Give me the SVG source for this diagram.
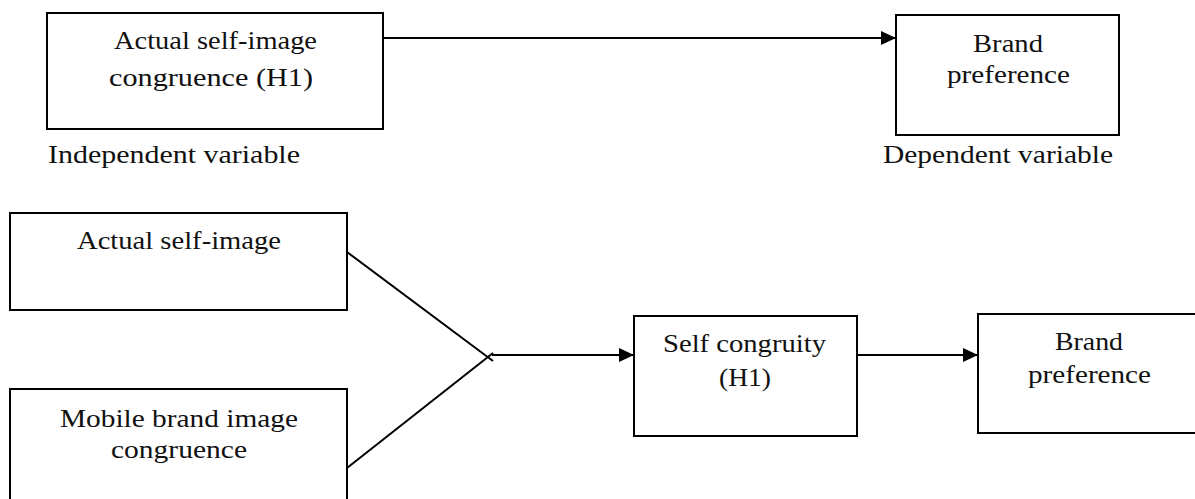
<svg xmlns="http://www.w3.org/2000/svg" width="1195" height="499" viewBox="0 0 1195 499">
<style>
.box{fill:#fff;stroke:#000;stroke-width:2}
text{font-family:'Liberation Serif','Times New Roman',Times,serif;font-size:26px;fill:#111}
.c{fill:none;stroke:#000;stroke-width:2}
</style>
<defs>
<marker id="ah" viewBox="0 0 15 14" refX="15" refY="7" markerWidth="15" markerHeight="14" markerUnits="userSpaceOnUse" orient="auto">
<path d="M0,0 L15,7 L0,14 Z" fill="#000"/>
</marker>
</defs>
<rect width="1195" height="499" fill="#fff"/>
<g id="connectors">
<line class="c" x1="383" y1="38" x2="896" y2="38" marker-end="url(#ah)"/>
<line class="c" x1="347" y1="252" x2="493" y2="361"/>
<line class="c" x1="347" y1="468" x2="493" y2="353"/>
<line class="c" x1="492" y1="355" x2="634" y2="355" marker-end="url(#ah)"/>
<line class="c" x1="857" y1="355" x2="978" y2="355" marker-end="url(#ah)"/>
</g>
<g id="node-actual-congruence" font-family="Liberation Serif, serif">
<rect class="box" x="47" y="13" width="336" height="116"/>
<text x="114" y="49" textLength="203" lengthAdjust="spacingAndGlyphs">Actual self-image</text>
<text x="109" y="86" textLength="204" lengthAdjust="spacingAndGlyphs">congruence (H1)</text>
</g>
<g id="label-independent">
<text x="48" y="163" textLength="252" lengthAdjust="spacingAndGlyphs">Independent variable</text>
</g>
<g id="node-brand-pref-top">
<rect class="box" x="896" y="15" width="223" height="120"/>
<text x="973" y="52" textLength="70" lengthAdjust="spacingAndGlyphs">Brand</text>
<text x="947" y="83" textLength="123" lengthAdjust="spacingAndGlyphs">preference</text>
</g>
<g id="label-dependent">
<text x="883" y="163" textLength="230" lengthAdjust="spacingAndGlyphs">Dependent variable</text>
</g>
<g id="node-actual-self-image">
<rect class="box" x="10" y="213" width="337" height="97"/>
<text x="77" y="249" textLength="204" lengthAdjust="spacingAndGlyphs">Actual self-image</text>
</g>
<g id="node-mobile-brand">
<rect class="box" x="10" y="389" width="337" height="125"/>
<text x="60" y="427" textLength="238" lengthAdjust="spacingAndGlyphs">Mobile brand image</text>
<text x="111" y="458" textLength="136" lengthAdjust="spacingAndGlyphs">congruence</text>
</g>
<g id="node-self-congruity">
<rect class="box" x="634" y="316" width="223" height="120"/>
<text x="663" y="352" textLength="163" lengthAdjust="spacingAndGlyphs">Self congruity</text>
<text x="719" y="386" textLength="52" lengthAdjust="spacingAndGlyphs">(H1)</text>
</g>
<g id="node-brand-pref-bottom">
<rect class="box" x="978" y="314" width="230" height="119"/>
<text x="1055" y="350" textLength="68" lengthAdjust="spacingAndGlyphs">Brand</text>
<text x="1028" y="383" textLength="123" lengthAdjust="spacingAndGlyphs">preference</text>
</g>
</svg>
